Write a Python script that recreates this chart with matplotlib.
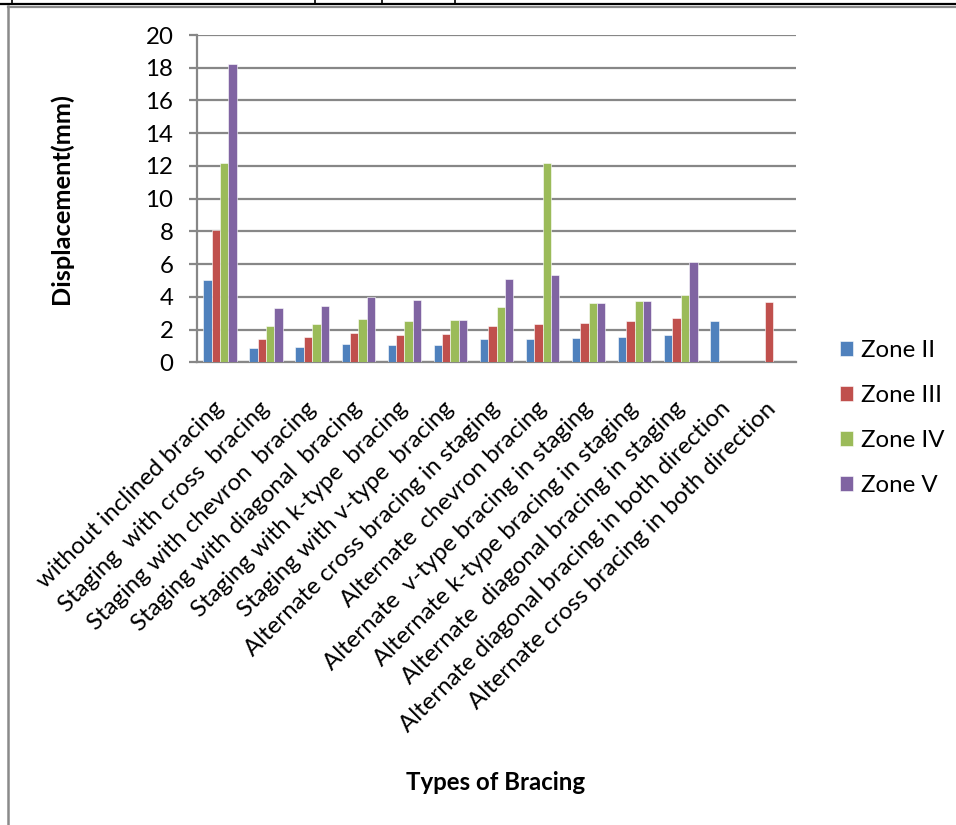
import numpy as np
import matplotlib
matplotlib.use("Agg")
import matplotlib.pyplot as plt
from matplotlib.lines import Line2D

plt.rcParams['font.family'] = ['Lato', 'DejaVu Sans']

categories = [
    "without inclined bracing",
    "Staging  with cross  bracing",
    "Staging with chevron  bracing",
    "Staging with diagonal  bracing",
    "Staging with k-type  bracing",
    "Staging with v-type  bracing",
    "Alternate cross bracing in staging",
    "Alternate  chevron bracing",
    "Alternate  v-type bracing in staging",
    "Alternate k-type bracing in staging",
    "Alternate  diagonal bracing in staging",
    "Alternate diagonal bracing in both direction",
    "Alternate cross bracing in both direction",
]

zone_ii = [5.05, 0.89, 0.93, 1.10, 1.04, 1.06, 1.40, 1.44, 1.48, 1.55, 1.69, 2.52, np.nan]
zone_iii = [8.08, 1.44, 1.53, 1.77, 1.69, 1.73, 2.24, 2.36, 2.40, 2.50, 2.71, np.nan, 3.70]
zone_iv = [12.16, 2.20, 2.32, 2.65, 2.52, 2.57, 3.38, 12.16, 3.60, 3.74, 4.11, np.nan, np.nan]
zone_v = [18.24, 3.32, 3.46, 3.99, 3.81, 2.57, 5.09, 5.31, 3.60, 3.74, 6.15, np.nan, np.nan]

series_names = ["Zone II", "Zone III", "Zone IV", "Zone V"]
series_colors = ["#4F81BD", "#C0504D", "#9BBB59", "#8064A2"]
yticks = [0, 2, 4, 6, 8, 10, 12, 14, 16, 18, 20]

W, H = 956, 825
FS = 17.3
fig = plt.figure(figsize=(W / 100, H / 100), dpi=100)
ax = fig.add_axes([197 / W, 1 - 362.3 / H, (796 - 197) / W, (362.3 - 35) / H])

x = np.arange(len(categories))
bw = 1 / 5.5
for i, (vals, name, col) in enumerate(zip([zone_ii, zone_iii, zone_iv, zone_v],
                                           series_names, series_colors)):
    ax.bar(x + (i - 1.5) * bw, vals, width=bw, color=col, label=name,
           edgecolor="white", linewidth=0.4, zorder=3)

grid_col = "#878787"
ax.set_xlim(-0.5, len(categories) - 0.5)
ax.set_ylim(0, 20)
ax.set_yticks(yticks)
ax.yaxis.grid(True, color=grid_col, linewidth=1.6, zorder=0)
ax.set_axisbelow(True)
for s in ["top", "right"]:
    ax.spines[s].set_visible(False)
for s in ["left", "bottom"]:
    ax.spines[s].set_color(grid_col)
    ax.spines[s].set_linewidth(1.6)
ax.tick_params(axis="y", direction="out", length=6, width=1.6, color=grid_col,
               pad=11, labelsize=FS)
ax.tick_params(axis="x", length=0, pad=31)
ax.set_xticks(x)
ax.set_xticklabels(categories, rotation=45, ha="right", va="center",
                   rotation_mode="anchor", fontsize=FS)

ax.set_ylabel("Displacement(mm)", fontsize=FS + 1, fontweight="bold")
ax.yaxis.set_label_coords((73 - 197) / (796 - 197), 0.5)
fig.text(496 / W, 1 - 783 / H, "Types of Bracing", fontsize=FS,
         fontweight="bold", ha="center", va="center")

leg = ax.legend(loc="center left", frameon=False, fontsize=FS,
                handlelength=0.55, handleheight=0.55, handletextpad=0.35,
                labelspacing=1.0)
leg.set_bbox_to_anchor((818 / W, 1 - 418 / H), transform=fig.transFigure)

# outer frame of the chart area and the table rule above it
def fig_line(x0, y0, x1, y1, color, lw):
    fig.add_artist(Line2D([x0 / W, x1 / W], [1 - y0 / H, 1 - y1 / H],
                          color=color, linewidth=lw, transform=fig.transFigure))

fig_line(0, 3.5, W, 3.5, "black", 1.6)
for xv in [12, 315, 382, 455]:
    fig_line(xv, 0, xv, 3.5, "black", 1.2)
fig_line(8, 6.5, W, 6.5, "#8a8a8a", 1.6)
fig_line(8, 6, 8, H, "#8a8a8a", 1.8)

fig.savefig("out.png", dpi=100, facecolor="white")
